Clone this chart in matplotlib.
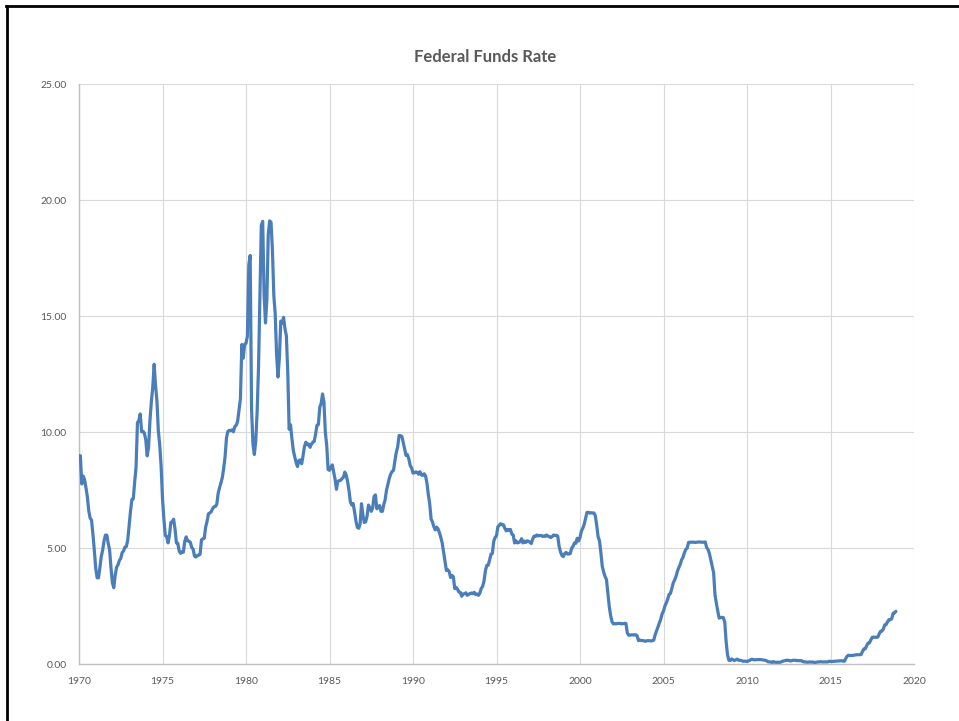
import numpy as np
import matplotlib
matplotlib.use("Agg")
import matplotlib.pyplot as plt
from matplotlib.lines import Line2D

# monthly effective federal funds rate, Jan 1970 - Dec 2018
years = list(range(1970, 2019))
rates = [
    [8.98, 8.98, 7.76, 8.10, 7.94, 7.60, 7.21, 6.61, 6.29, 6.20, 5.60, 4.90],  # 1970
    [4.14, 3.72, 3.71, 4.15, 4.63, 4.91, 5.31, 5.56, 5.55, 5.20, 4.91, 4.14],
    [3.50, 3.29, 3.83, 4.17, 4.27, 4.46, 4.55, 4.80, 4.87, 5.04, 5.06, 5.33],
    [5.94, 6.58, 7.09, 7.12, 7.84, 8.49, 10.40, 10.50, 10.78, 10.01, 10.03, 9.95],
    [9.65, 8.97, 9.35, 10.51, 11.31, 11.93, 12.92, 12.01, 11.34, 10.06, 9.45, 8.53],
    [7.13, 6.24, 5.54, 5.49, 5.22, 5.55, 6.10, 6.14, 6.24, 5.82, 5.22, 5.20],  # 1975
    [4.87, 4.77, 4.84, 4.82, 5.29, 5.48, 5.31, 5.29, 5.25, 5.02, 4.95, 4.65],
    [4.61, 4.68, 4.69, 4.73, 5.35, 5.39, 5.42, 5.90, 6.14, 6.47, 6.51, 6.56],
    [6.70, 6.78, 6.79, 6.89, 7.36, 7.60, 7.81, 8.04, 8.45, 8.96, 9.76, 10.03],
    [10.07, 10.06, 10.09, 10.01, 10.24, 10.29, 10.47, 10.94, 11.43, 13.77, 13.18, 13.78],
    [13.82, 14.13, 17.19, 17.61, 10.98, 9.47, 9.03, 9.61, 10.87, 12.81, 15.85, 18.90],  # 1980
    [19.08, 15.93, 14.70, 15.72, 18.52, 19.10, 19.04, 17.82, 15.87, 15.08, 13.31, 12.37],
    [13.22, 14.78, 14.68, 14.94, 14.45, 14.15, 12.59, 10.12, 10.31, 9.71, 9.20, 8.95],
    [8.68, 8.51, 8.77, 8.80, 8.63, 8.98, 9.37, 9.56, 9.45, 9.48, 9.34, 9.47],
    [9.56, 9.59, 9.91, 10.29, 10.32, 11.06, 11.23, 11.64, 11.30, 9.99, 9.43, 8.38],
    [8.35, 8.50, 8.58, 8.27, 7.97, 7.53, 7.88, 7.90, 7.92, 7.99, 8.05, 8.27],  # 1985
    [8.14, 7.86, 7.48, 6.99, 6.85, 6.92, 6.56, 6.17, 5.89, 5.85, 6.04, 6.91],
    [6.43, 6.10, 6.13, 6.37, 6.85, 6.73, 6.58, 6.73, 7.22, 7.29, 6.69, 6.77],
    [6.83, 6.58, 6.58, 6.87, 7.09, 7.51, 7.75, 8.01, 8.19, 8.30, 8.35, 8.76],
    [9.12, 9.36, 9.85, 9.84, 9.81, 9.53, 9.24, 8.99, 9.02, 8.84, 8.55, 8.45],
    [8.23, 8.24, 8.28, 8.26, 8.18, 8.29, 8.15, 8.13, 8.20, 8.11, 7.81, 7.31],  # 1990
    [6.91, 6.25, 6.12, 5.91, 5.78, 5.90, 5.82, 5.66, 5.45, 5.21, 4.81, 4.43],
    [4.03, 4.06, 3.98, 3.73, 3.82, 3.76, 3.25, 3.30, 3.22, 3.10, 3.09, 2.92],
    [3.02, 3.03, 3.07, 2.96, 3.00, 3.04, 3.06, 3.03, 3.09, 2.99, 3.02, 2.96],
    [3.05, 3.25, 3.34, 3.56, 4.01, 4.25, 4.26, 4.47, 4.73, 4.76, 5.29, 5.45],
    [5.53, 5.92, 5.98, 6.05, 6.01, 6.00, 5.85, 5.74, 5.80, 5.76, 5.80, 5.60],  # 1995
    [5.56, 5.22, 5.31, 5.22, 5.24, 5.27, 5.40, 5.22, 5.30, 5.24, 5.31, 5.29],
    [5.25, 5.19, 5.39, 5.51, 5.50, 5.56, 5.52, 5.54, 5.54, 5.50, 5.52, 5.50],
    [5.56, 5.51, 5.49, 5.45, 5.49, 5.56, 5.54, 5.55, 5.51, 5.07, 4.83, 4.68],
    [4.63, 4.76, 4.81, 4.74, 4.74, 4.76, 4.99, 5.07, 5.22, 5.20, 5.42, 5.30],
    [5.45, 5.73, 5.85, 6.02, 6.27, 6.53, 6.54, 6.50, 6.52, 6.51, 6.51, 6.40],  # 2000
    [5.98, 5.49, 5.31, 4.80, 4.21, 3.97, 3.77, 3.65, 3.07, 2.49, 2.09, 1.82],
    [1.73, 1.74, 1.73, 1.75, 1.75, 1.75, 1.73, 1.74, 1.75, 1.75, 1.34, 1.24],
    [1.24, 1.26, 1.25, 1.26, 1.26, 1.22, 1.01, 1.03, 1.01, 1.01, 1.00, 0.98],
    [1.00, 1.01, 1.00, 1.00, 1.00, 1.03, 1.26, 1.43, 1.61, 1.76, 1.93, 2.16],
    [2.28, 2.50, 2.63, 2.79, 3.00, 3.04, 3.26, 3.50, 3.62, 3.78, 4.00, 4.16],  # 2005
    [4.29, 4.49, 4.59, 4.79, 4.94, 4.99, 5.24, 5.25, 5.25, 5.25, 5.25, 5.24],
    [5.25, 5.26, 5.26, 5.25, 5.25, 5.25, 5.26, 5.02, 4.94, 4.76, 4.49, 4.24],
    [3.94, 2.98, 2.61, 2.28, 1.98, 2.00, 2.01, 2.00, 1.81, 0.97, 0.39, 0.16],
    [0.15, 0.22, 0.18, 0.15, 0.18, 0.21, 0.16, 0.16, 0.15, 0.12, 0.12, 0.12],
    [0.11, 0.13, 0.16, 0.20, 0.20, 0.18, 0.18, 0.19, 0.19, 0.19, 0.19, 0.18],  # 2010
    [0.17, 0.16, 0.14, 0.10, 0.09, 0.09, 0.07, 0.10, 0.08, 0.07, 0.08, 0.07],
    [0.08, 0.10, 0.13, 0.14, 0.16, 0.16, 0.16, 0.13, 0.14, 0.16, 0.16, 0.16],
    [0.14, 0.15, 0.14, 0.15, 0.11, 0.09, 0.09, 0.08, 0.08, 0.09, 0.08, 0.09],
    [0.07, 0.07, 0.08, 0.09, 0.09, 0.10, 0.09, 0.09, 0.09, 0.09, 0.09, 0.12],
    [0.11, 0.11, 0.11, 0.12, 0.12, 0.13, 0.13, 0.14, 0.14, 0.12, 0.12, 0.24],  # 2015
    [0.34, 0.38, 0.36, 0.37, 0.37, 0.38, 0.39, 0.40, 0.40, 0.40, 0.41, 0.54],
    [0.65, 0.66, 0.79, 0.90, 0.91, 1.04, 1.15, 1.16, 1.15, 1.15, 1.16, 1.30],
    [1.41, 1.42, 1.51, 1.69, 1.70, 1.82, 1.91, 1.91, 1.95, 2.19, 2.20, 2.27],
]
x_ticks = [1970, 1975, 1980, 1985, 1990, 1995, 2000, 2005, 2010, 2015, 2020]
y_ticks = [0, 5, 10, 15, 20, 25]

# decimal year for each month
t = np.array([y + m / 12 for y in years for m in range(12)])
r = np.array(rates).ravel()

plt.rcParams['font.family'] = ['Lato', 'DejaVu Sans']
grey = '#595959'

fig = plt.figure(figsize=(9.59, 7.21), dpi=100)
ax = fig.add_axes([79 / 959, 57 / 721, 835 / 959, 580 / 721])

ax.plot(t, r, color='#4A7EBB', lw=2.3, solid_joinstyle='round', solid_capstyle='round', zorder=3)

ax.set_xlim(1970, 2020)
ax.set_ylim(0, 25)
ax.set_xticks(x_ticks)
ax.set_yticks(y_ticks)
ax.set_yticklabels([f"{v:.2f}" for v in y_ticks])
ax.tick_params(length=0, labelsize=7.5, labelcolor=grey)
ax.tick_params(axis='x', pad=9)
ax.tick_params(axis='y', pad=9)
ax.grid(True, color='#D9D9D9', lw=0.8, zorder=0)
ax.set_axisbelow(True)
for s in ['top', 'right']:
    ax.spines[s].set_visible(False)
ax.spines['left'].set_color('#BFBFBF')
ax.spines['bottom'].set_color('#BFBFBF')
ax.spines['left'].set_linewidth(1.0)
ax.spines['bottom'].set_linewidth(1.0)

fig.text(485 / 959, 1 - 57 / 721, "Federal Funds Rate", ha='center', va='center',
         fontsize=12, fontweight='bold', color=grey)

# black frame on the left and top edges (the picture is a crop)
fig.add_artist(Line2D([7 / 959, 7 / 959], [0, 1 - 6 / 721], transform=fig.transFigure,
                      color='black', lw=2))
fig.add_artist(Line2D([6 / 959, 1], [1 - 6 / 721, 1 - 6 / 721], transform=fig.transFigure,
                      color='black', lw=2))

fig.savefig("out.png", dpi=100)
